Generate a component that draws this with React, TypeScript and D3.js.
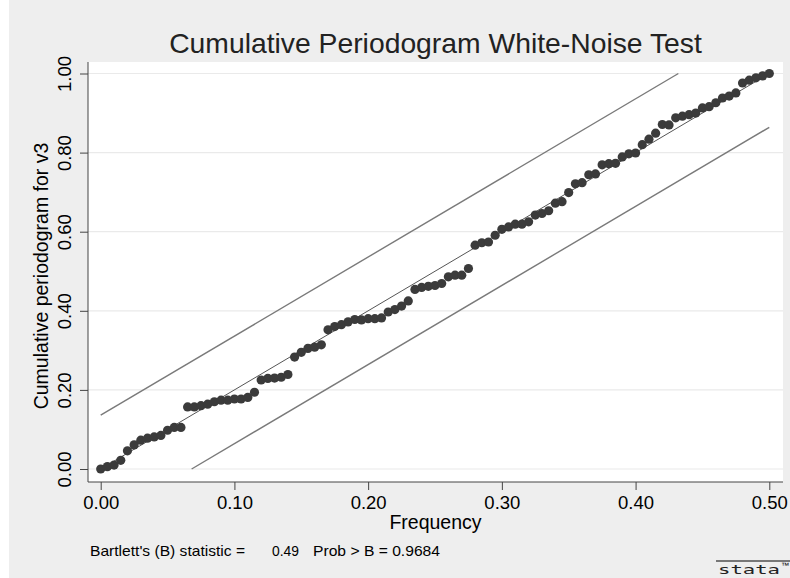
import React, { useEffect, useRef } from 'react';
import * as d3 from 'd3';

// cumulative periodogram, one value per Fourier frequency k/200, k = 0..100
const cumPgram: number[] = [
  0.0, 0.006, 0.01, 0.022, 0.046, 0.061, 0.073, 0.078, 0.081, 0.085,
  0.098, 0.105, 0.105, 0.157, 0.157, 0.16, 0.164, 0.17, 0.174, 0.174,
  0.177, 0.177, 0.181, 0.194, 0.225, 0.229, 0.23, 0.232, 0.239, 0.283,
  0.295, 0.305, 0.308, 0.314, 0.352, 0.36, 0.365, 0.372, 0.378, 0.377,
  0.38, 0.38, 0.382, 0.397, 0.403, 0.412, 0.425, 0.454, 0.459, 0.462,
  0.464, 0.469, 0.486, 0.49, 0.49, 0.507, 0.566, 0.572, 0.574, 0.591,
  0.606, 0.612, 0.619, 0.619, 0.625, 0.642, 0.646, 0.653, 0.672, 0.676,
  0.699, 0.721, 0.724, 0.744, 0.746, 0.769, 0.772, 0.773, 0.789, 0.797,
  0.799, 0.82, 0.834, 0.849, 0.871, 0.87, 0.888, 0.892, 0.896, 0.9,
  0.913, 0.916, 0.926, 0.938, 0.943, 0.951, 0.976, 0.983, 0.989, 0.994,
  1.0,
];
const sampleSize = 200;
const bandHalfWidth = 0.136; // 1.36 / sqrt(q), q = 100

const xTicks = [0, 0.1, 0.2, 0.3, 0.4, 0.5];
const yTicks = [0, 0.2, 0.4, 0.6, 0.8, 1.0];

const titleText = 'Cumulative Periodogram White-Noise Test';
const xTitle = 'Frequency';
const yTitle = 'Cumulative periodogram for v3';
const noteParts = ["Bartlett's (B) statistic =", '0.49', 'Prob > B = 0.9684'];

const FONT = '"Liberation Sans", Arial, Helvetica, sans-serif';

const App = () => {
  const ref = useRef<SVGSVGElement>(null);

  useEffect(() => {
    const W = 790;
    const H = 578;
    const svg = d3.select(ref.current).attr('width', W).attr('height', H);
    svg.selectAll('*').remove();

    const plotL = 88;
    const plotR = 783;
    const plotT = 62;
    const plotB = 482;

    const x = d3.scaleLinear().domain([0, 0.5]).range([100.7, 769.3]);
    const y = d3.scaleLinear().domain([0, 1]).range([469, 73.5]);

    svg.append('rect').attr('width', W).attr('height', H).attr('fill', '#ffffff');
    svg.append('rect').attr('x', 9).attr('width', W - 9).attr('height', H).attr('fill', '#eeeeee');

    svg
      .append('rect')
      .attr('x', plotL)
      .attr('y', plotT)
      .attr('width', plotR - plotL)
      .attr('height', plotB - plotT)
      .attr('fill', '#ffffff');

    // horizontal grid
    svg
      .append('g')
      .selectAll('line')
      .data(yTicks)
      .join('line')
      .attr('x1', plotL)
      .attr('x2', plotR)
      .attr('y1', d => y(d))
      .attr('y2', d => y(d))
      .attr('stroke', '#eaeaea')
      .attr('stroke-width', 1.2);

    // reference lines
    const pts = cumPgram.map((v, k) => ({ f: k / sampleSize, v }));
    svg
      .append('line')
      .attr('x1', x(0))
      .attr('y1', y(0))
      .attr('x2', x(0.5))
      .attr('y2', y(1))
      .attr('stroke', '#555555')
      .attr('stroke-width', 1);
    svg
      .append('line')
      .attr('x1', x(0))
      .attr('y1', y(bandHalfWidth))
      .attr('x2', x((1 - bandHalfWidth) / 2))
      .attr('y2', y(1))
      .attr('stroke', '#7a7a7a')
      .attr('stroke-width', 1.4);
    svg
      .append('line')
      .attr('x1', x(bandHalfWidth / 2))
      .attr('y1', y(0))
      .attr('x2', x(0.5))
      .attr('y2', y(1 - bandHalfWidth))
      .attr('stroke', '#7a7a7a')
      .attr('stroke-width', 1.4);

    svg
      .append('g')
      .selectAll('circle')
      .data(pts)
      .join('circle')
      .attr('cx', d => x(d.f))
      .attr('cy', d => y(d.v))
      .attr('r', 4.6)
      .attr('fill', '#3b3b3b');

    // axes
    const xAxis = svg
      .append('g')
      .attr('transform', `translate(0,${plotB})`)
      .call(d3.axisBottom(x).tickValues(xTicks).tickFormat(d3.format('.2f')).tickSize(8).tickPadding(6));
    xAxis.select('.domain').attr('d', `M${plotL},0H${plotR}`).attr('stroke', '#444444');
    xAxis.selectAll('.tick line').attr('stroke', '#444444');
    xAxis.selectAll('.tick text').attr('font-family', FONT).attr('font-size', 18.5).attr('fill', '#000');

    const yAxis = svg
      .append('g')
      .attr('transform', `translate(${plotL},0)`)
      .call(d3.axisLeft(y).tickValues(yTicks).tickFormat(d3.format('.2f')).tickSize(8).tickPadding(4));
    yAxis.select('.domain').attr('d', `M0,${plotT}V${plotB}`).attr('stroke', '#444444');
    yAxis.selectAll('.tick line').attr('stroke', '#444444');
    yAxis
      .selectAll('.tick text')
      .attr('font-family', FONT)
      .attr('font-size', 18.5)
      .attr('fill', '#000')
      .attr('x', null)
      .attr('dy', null)
      .attr('text-anchor', 'middle')
      .attr('transform', 'translate(-17,0) rotate(-90)');

    svg
      .append('text')
      .attr('x', (plotL + plotR) / 2)
      .attr('y', 53)
      .attr('text-anchor', 'middle')
      .attr('font-family', FONT)
      .attr('font-size', 28.3)
      .attr('fill', '#222')
      .text(titleText);

    svg
      .append('text')
      .attr('x', (plotL + plotR) / 2)
      .attr('y', 529)
      .attr('text-anchor', 'middle')
      .attr('font-family', FONT)
      .attr('font-size', 19.5)
      .text(xTitle);

    svg
      .append('text')
      .attr('transform', `translate(48,${(plotT + plotB) / 2 + 4}) rotate(-90)`)
      .attr('text-anchor', 'middle')
      .attr('font-family', FONT)
      .attr('font-size', 19.5)
      .text(yTitle);

    const note = svg.append('g').attr('font-family', FONT).attr('font-size', 14.5);
    note
      .append('text')
      .attr('x', 90)
      .attr('y', 556)
      .attr('textLength', 155)
      .attr('lengthAdjust', 'spacingAndGlyphs')
      .text(noteParts[0]);
    note
      .append('text')
      .attr('x', 272)
      .attr('y', 556)
      .attr('textLength', 27)
      .attr('lengthAdjust', 'spacingAndGlyphs')
      .text(noteParts[1]);
    note
      .append('text')
      .attr('x', 313)
      .attr('y', 556)
      .attr('textLength', 127)
      .attr('lengthAdjust', 'spacingAndGlyphs')
      .text(noteParts[2]);

    // stata logo
    svg.append('line').attr('x1', 716).attr('x2', 790).attr('y1', 561).attr('y2', 561).attr('stroke', '#000').attr('stroke-width', 1);
    svg
      .append('text')
      .attr('x', 718)
      .attr('y', 574)
      .attr('font-family', '"DejaVu Sans Mono", monospace')
      .attr('font-size', 12)
      .attr('fill', '#222')
      .attr('textLength', 62)
      .attr('lengthAdjust', 'spacingAndGlyphs')
      .text('stata');
    svg.append('text').attr('x', 781).attr('y', 568).attr('font-family', FONT).attr('font-size', 8).text('™');
  }, []);

  return <svg ref={ref} style={{ position: 'absolute', left: 0, top: 0 }} />;
};

export default App;
